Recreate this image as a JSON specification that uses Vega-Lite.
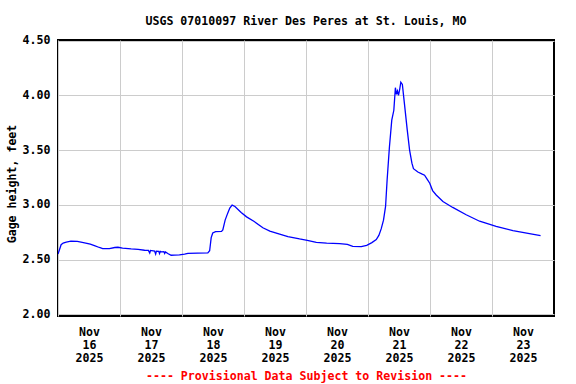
{
  "$schema": "https://vega.github.io/schema/vega-lite/v6.json",
  "autosize": {"type": "none"},
  "padding": {"left": 58, "top": 40, "right": 22, "bottom": 68},
  "width": 496,
  "height": 276,
  "background": "white",
  "title": {
    "text": "USGS 07010097 River Des Peres at St. Louis, MO",
    "anchor": "middle",
    "frame": "group",
    "baseline": "alphabetic",
    "offset": 15.5,
    "dy": 17.5,
    "font": "DejaVu Sans Mono",
    "fontSize": 11.6,
    "fontWeight": "bold",
    "color": "black"
  },
  "config": {
    "view": {"stroke": "black", "strokeWidth": 2},
    "font": "DejaVu Sans Mono"
  },
  "data": {
    "values": [
      {"time": "2025-11-16T00:00", "height": 2.55},
      {"time": "2025-11-16T00:30", "height": 2.585},
      {"time": "2025-11-16T01:12", "height": 2.635},
      {"time": "2025-11-16T02:00", "height": 2.65},
      {"time": "2025-11-16T03:12", "height": 2.66},
      {"time": "2025-11-16T05:00", "height": 2.668},
      {"time": "2025-11-16T07:30", "height": 2.665},
      {"time": "2025-11-16T10:18", "height": 2.652},
      {"time": "2025-11-16T12:30", "height": 2.64},
      {"time": "2025-11-16T14:06", "height": 2.627},
      {"time": "2025-11-16T16:00", "height": 2.61},
      {"time": "2025-11-16T17:18", "height": 2.6},
      {"time": "2025-11-16T19:54", "height": 2.6},
      {"time": "2025-11-16T22:00", "height": 2.61},
      {"time": "2025-11-16T23:12", "height": 2.612},
      {"time": "2025-11-17T01:00", "height": 2.605},
      {"time": "2025-11-17T04:18", "height": 2.597},
      {"time": "2025-11-17T07:00", "height": 2.592},
      {"time": "2025-11-17T09:30", "height": 2.585},
      {"time": "2025-11-17T11:00", "height": 2.583},
      {"time": "2025-11-17T11:30", "height": 2.56},
      {"time": "2025-11-17T11:48", "height": 2.583},
      {"time": "2025-11-17T13:24", "height": 2.578},
      {"time": "2025-11-17T13:48", "height": 2.55},
      {"time": "2025-11-17T14:06", "height": 2.577},
      {"time": "2025-11-17T15:00", "height": 2.575},
      {"time": "2025-11-17T15:18", "height": 2.555},
      {"time": "2025-11-17T15:36", "height": 2.575},
      {"time": "2025-11-17T16:00", "height": 2.57},
      {"time": "2025-11-17T17:00", "height": 2.572},
      {"time": "2025-11-17T17:18", "height": 2.556},
      {"time": "2025-11-17T17:36", "height": 2.57},
      {"time": "2025-11-17T18:30", "height": 2.555},
      {"time": "2025-11-17T19:48", "height": 2.539},
      {"time": "2025-11-17T21:00", "height": 2.54},
      {"time": "2025-11-17T23:00", "height": 2.542},
      {"time": "2025-11-18T01:00", "height": 2.55},
      {"time": "2025-11-18T02:18", "height": 2.557},
      {"time": "2025-11-18T06:00", "height": 2.558},
      {"time": "2025-11-18T10:00", "height": 2.56},
      {"time": "2025-11-18T10:42", "height": 2.58},
      {"time": "2025-11-18T11:18", "height": 2.7},
      {"time": "2025-11-18T11:54", "height": 2.743},
      {"time": "2025-11-18T13:00", "height": 2.755},
      {"time": "2025-11-18T15:18", "height": 2.757},
      {"time": "2025-11-18T15:48", "height": 2.77},
      {"time": "2025-11-18T16:24", "height": 2.83},
      {"time": "2025-11-18T16:42", "height": 2.86},
      {"time": "2025-11-18T17:42", "height": 2.924},
      {"time": "2025-11-18T18:30", "height": 2.97},
      {"time": "2025-11-18T19:24", "height": 2.997},
      {"time": "2025-11-18T20:30", "height": 2.985},
      {"time": "2025-11-18T22:54", "height": 2.93},
      {"time": "2025-11-19T01:00", "height": 2.89},
      {"time": "2025-11-19T03:48", "height": 2.85},
      {"time": "2025-11-19T07:18", "height": 2.79},
      {"time": "2025-11-19T10:00", "height": 2.76},
      {"time": "2025-11-19T13:48", "height": 2.733},
      {"time": "2025-11-19T17:00", "height": 2.71},
      {"time": "2025-11-19T21:30", "height": 2.688},
      {"time": "2025-11-20T00:30", "height": 2.675},
      {"time": "2025-11-20T04:00", "height": 2.657},
      {"time": "2025-11-20T08:00", "height": 2.65},
      {"time": "2025-11-20T13:00", "height": 2.645},
      {"time": "2025-11-20T16:00", "height": 2.638},
      {"time": "2025-11-20T18:06", "height": 2.62},
      {"time": "2025-11-20T21:24", "height": 2.618},
      {"time": "2025-11-20T23:30", "height": 2.63},
      {"time": "2025-11-21T01:30", "height": 2.655},
      {"time": "2025-11-21T03:12", "height": 2.682},
      {"time": "2025-11-21T04:12", "height": 2.72},
      {"time": "2025-11-21T05:06", "height": 2.78},
      {"time": "2025-11-21T06:00", "height": 2.86},
      {"time": "2025-11-21T06:48", "height": 2.985},
      {"time": "2025-11-21T07:24", "height": 3.227},
      {"time": "2025-11-21T08:18", "height": 3.53},
      {"time": "2025-11-21T09:12", "height": 3.773},
      {"time": "2025-11-21T10:00", "height": 3.864},
      {"time": "2025-11-21T10:36", "height": 4.07},
      {"time": "2025-11-21T11:00", "height": 4.01},
      {"time": "2025-11-21T11:24", "height": 4.04},
      {"time": "2025-11-21T11:48", "height": 4.0},
      {"time": "2025-11-21T12:18", "height": 4.06},
      {"time": "2025-11-21T12:42", "height": 4.12},
      {"time": "2025-11-21T13:18", "height": 4.1},
      {"time": "2025-11-21T14:06", "height": 3.924},
      {"time": "2025-11-21T15:12", "height": 3.682},
      {"time": "2025-11-21T16:06", "height": 3.5},
      {"time": "2025-11-21T17:00", "height": 3.38},
      {"time": "2025-11-21T17:36", "height": 3.33},
      {"time": "2025-11-21T19:18", "height": 3.3},
      {"time": "2025-11-21T21:00", "height": 3.28},
      {"time": "2025-11-21T21:54", "height": 3.27},
      {"time": "2025-11-21T23:00", "height": 3.23},
      {"time": "2025-11-21T23:54", "height": 3.197},
      {"time": "2025-11-22T01:00", "height": 3.13},
      {"time": "2025-11-22T02:24", "height": 3.09},
      {"time": "2025-11-22T05:00", "height": 3.03},
      {"time": "2025-11-22T08:48", "height": 2.976},
      {"time": "2025-11-22T14:00", "height": 2.909},
      {"time": "2025-11-22T19:12", "height": 2.85},
      {"time": "2025-11-23T01:36", "height": 2.803},
      {"time": "2025-11-23T08:06", "height": 2.764},
      {"time": "2025-11-23T14:30", "height": 2.736},
      {"time": "2025-11-23T18:48", "height": 2.718}
    ]
  },
  "mark": {"type": "line", "color": "#0000ff", "strokeWidth": 1.3, "clip": true},
  "encoding": {
    "x": {
      "field": "time",
      "type": "temporal",
      "scale": {
        "domain": [
          {"year": 2025, "month": 11, "date": 16},
          {"year": 2025, "month": 11, "date": 24}
        ],
        "nice": false
      },
      "axis": {
        "values": [
          {"year": 2025, "month": 11, "date": 16},
          {"year": 2025, "month": 11, "date": 17},
          {"year": 2025, "month": 11, "date": 18},
          {"year": 2025, "month": 11, "date": 19},
          {"year": 2025, "month": 11, "date": 20},
          {"year": 2025, "month": 11, "date": 21},
          {"year": 2025, "month": 11, "date": 22},
          {"year": 2025, "month": 11, "date": 23}
        ],
        "labelExpr": "[timeFormat(datum.value, '%b'), timeFormat(datum.value, '%d'), timeFormat(datum.value, '%Y')]",
        "labelOffset": 31,
        "labelFlush": false,
        "labelOverlap": false,
        "labelBound": false,
        "labelAlign": "center",
        "labelBaseline": "top",
        "labelPadding": 10,
        "labelLineHeight": 13,
        "labelFont": "DejaVu Sans Mono",
        "labelFontSize": 11.6,
        "labelFontWeight": "bold",
        "labelColor": "black",
        "ticks": false,
        "tickSize": 0,
        "domain": false,
        "grid": true,
        "gridColor": "#cccccc",
        "gridWidth": 1,
        "title": "---- Provisional Data Subject to Revision ----",
        "titleFont": "DejaVu Sans Mono",
        "titleFontSize": 11.6,
        "titleFontWeight": "bold",
        "titleColor": "#ff0000",
        "titleBaseline": "alphabetic",
        "titleY": 63,
        "titleX": 248,
        "titleAlign": "center"
      }
    },
    "y": {
      "field": "height",
      "type": "quantitative",
      "scale": {"domain": [1.984, 4.506], "nice": false, "zero": false},
      "axis": {
        "values": [2, 2.5, 3, 3.5, 4, 4.5],
        "format": ".2f",
        "labelFont": "DejaVu Sans Mono",
        "labelFontSize": 11.6,
        "labelFontWeight": "bold",
        "labelColor": "black",
        "labelPadding": 8,
        "labelFlush": false,
        "labelOverlap": false,
        "ticks": false,
        "tickSize": 0,
        "domain": false,
        "grid": true,
        "gridColor": "#cccccc",
        "gridWidth": 1,
        "title": "Gage height, feet",
        "titleFont": "DejaVu Sans Mono",
        "titleFontSize": 11.6,
        "titleFontWeight": "bold",
        "titleColor": "black",
        "titleAngle": -90,
        "titleAlign": "center",
        "titleBaseline": "alphabetic",
        "titleX": -43,
        "titleY": 143.5
      }
    }
  }
}
